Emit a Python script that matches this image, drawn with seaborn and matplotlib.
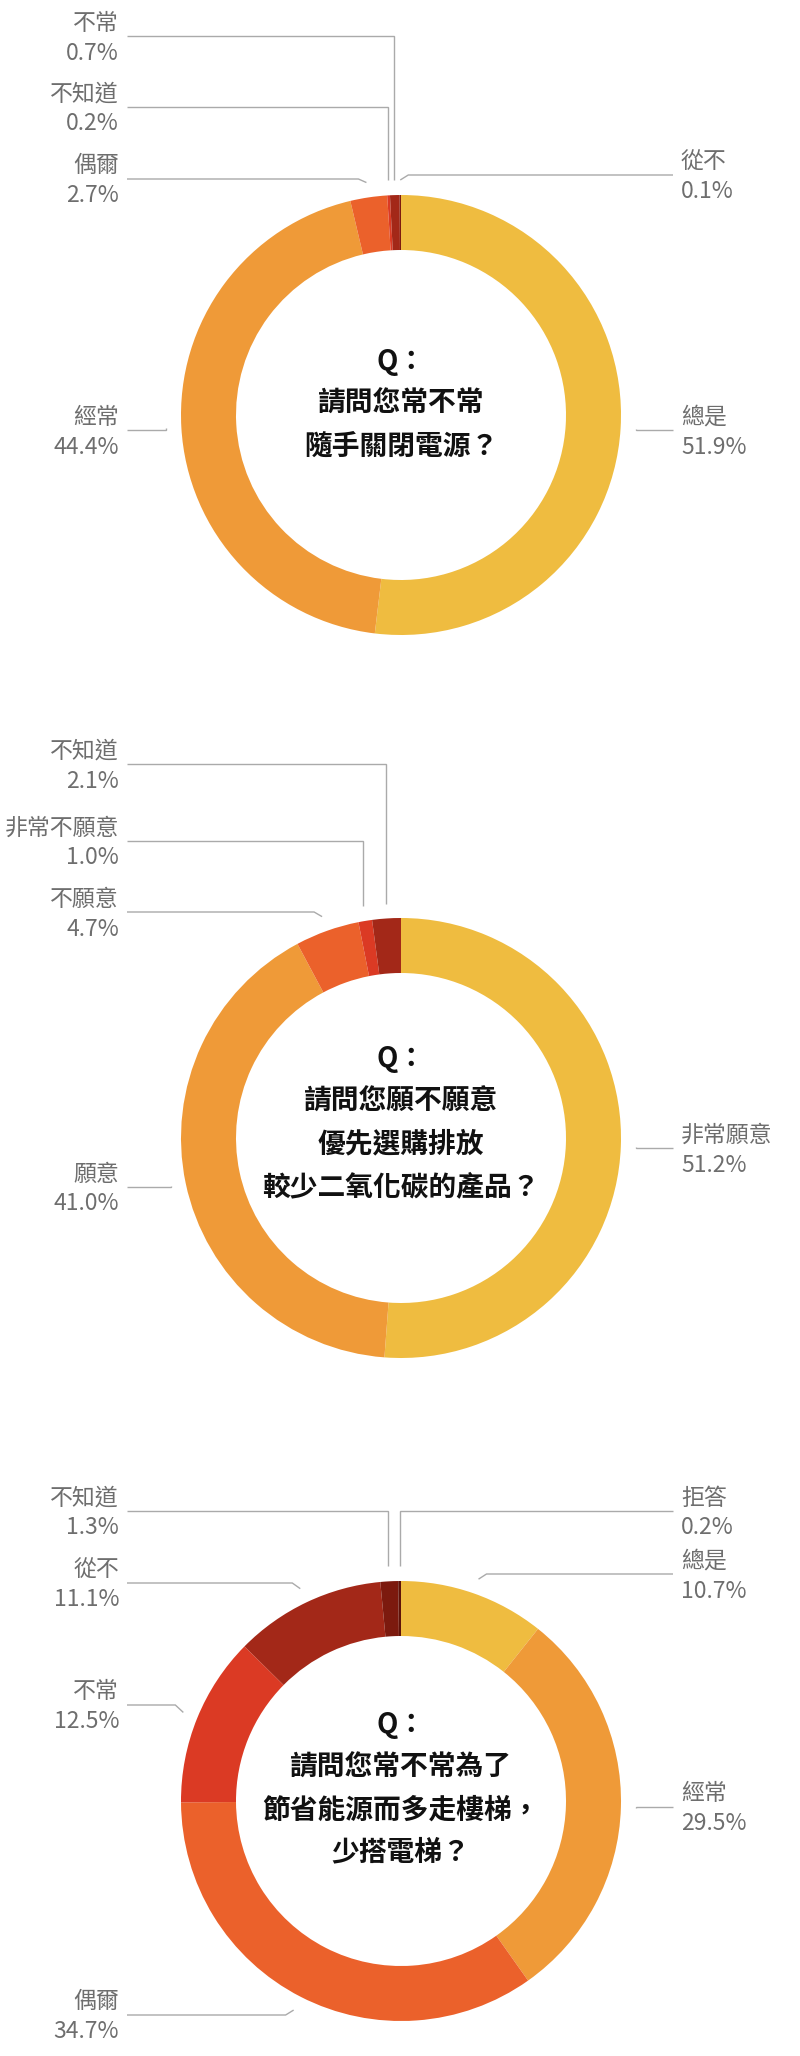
import numpy as np
import matplotlib
matplotlib.use("Agg")
import matplotlib.pyplot as plt
import seaborn as sns

# data
q1_labels = ["總是", "經常", "偶爾", "不知道", "不常", "從不"]
q1_values = [51.9, 44.4, 2.7, 0.2, 0.7, 0.1]
q1_title = ["Q：", "請問您常不常", "隨手關閉電源？"]

q2_labels = ["非常願意", "願意", "不願意", "非常不願意", "不知道"]
q2_values = [51.2, 41.0, 4.7, 1.0, 2.1]
q2_title = ["Q：", "請問您願不願意", "優先選購排放", "較少二氧化碳的產品？"]

q3_labels = ["總是", "經常", "偶爾", "不常", "從不", "不知道", "拒答"]
q3_values = [10.7, 29.5, 34.7, 12.5, 11.1, 1.3, 0.2]
q3_title = ["Q：", "請問您常不常為了", "節省能源而多走樓梯，", "少搭電梯？"]

palette = ["#EFBC40", "#EF9A38", "#EB612B", "#DB3A24", "#A32818", "#7C1A0E", "#5E1209"]

# layout (pixels, y measured from top)
W, H = 800, 2056
CX, R, RING = 401, 220, 55
charts = [
    dict(labels=q1_labels, values=q1_values, title=q1_title, cy=415, ty=404,
         label_y=[430, 430, 179, 107, 36, 175]),
    dict(labels=q2_labels, values=q2_values, title=q2_title, cy=1138, ty=1123,
         label_y=[1148, 1187, 912, 841, 764]),
    dict(labels=q3_labels, values=q3_values, title=q3_title, cy=1801, ty=1789,
         label_y=[1574, 1807, 2015, 1705, 1583, 1511, 1511]),
]

sns.set_theme(style="white")
plt.rcParams['font.family'] = ['Noto Sans CJK TC', 'DejaVu Sans']

fig = plt.figure(figsize=(W / 100, H / 100), dpi=100)
ax = fig.add_axes([0, 0, 1, 1])


def py(y):
    return H - y


line_color = "#AAAAAA"
text_color = "#6E6E6E"

for ch in charts:
    vals = ch["values"]
    cy = ch["cy"]
    ax.pie(vals, colors=palette[:len(vals)], center=(CX, py(cy)), radius=R,
           startangle=90, counterclock=False,
           wedgeprops=dict(width=RING, linewidth=0))

    # question in the hole
    n = len(ch["title"])
    for i, line in enumerate(ch["title"]):
        ty = ch["ty"] + (i - (n - 1) / 2) * 42.5
        ax.text(CX, py(ty), line, ha="center", va="center",
                fontsize=20, fontweight="bold", color="#111111")

    cum = np.cumsum(vals)
    total = cum[-1]
    for lab, v, c, ly in zip(ch["labels"], vals, cum, ch["label_y"]):
        mid = (c - v / 2) / total * 2 * np.pi
        px = CX + (R + 15) * np.sin(mid)
        pyy = cy - (R + 15) * np.cos(mid)
        left = px < CX - 3
        x0 = 127 if left else 673
        if abs(pyy - ly) > 20:
            xs = [x0, px, px]
            ys = [ly, ly, pyy]
        else:
            ex = px - 8 if left else px + 8
            if abs(pyy - ly) < 3:
                ex = px
            xs = [x0, ex, px]
            ys = [ly, ly, pyy]
        ax.plot(xs, [py(y) for y in ys], color=line_color, lw=1.0,
                solid_capstyle="butt", solid_joinstyle="miter")
        tx = 119 if left else 681
        ha = "right" if left else "left"
        ax.text(tx, py(ly - 13), lab, ha=ha, va="center", fontsize=16.5, color=text_color)
        ax.text(tx, py(ly + 17), f"{v:.1f}%", ha=ha, va="center", fontsize=16.5, color=text_color)

ax.set_xlim(0, W)
ax.set_ylim(0, H)
ax.set_aspect("auto")
ax.axis("off")

fig.savefig("out.png", dpi=100, facecolor="white")
